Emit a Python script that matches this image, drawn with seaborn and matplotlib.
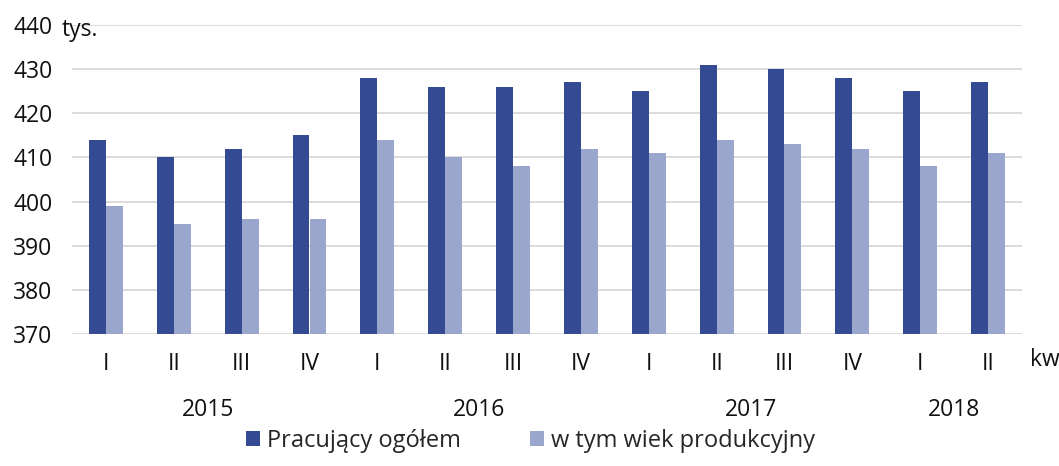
import matplotlib
matplotlib.use("Agg")
import matplotlib.pyplot as plt
import seaborn as sns
import pandas as pd
from matplotlib.patches import Patch

quarters = ["I", "II", "III", "IV", "I", "II", "III", "IV", "I", "II", "III", "IV", "I", "II"]
years = ["2015", "2016", "2017", "2018"]
year_groups = [(0, 3), (4, 7), (8, 11), (12, 13)]
total = [414, 410, 412, 415, 428, 426, 426, 427, 425, 431, 430, 428, 425, 427]
working_age = [399, 395, 396, 396, 414, 410, 408, 412, 411, 414, 413, 412, 408, 411]
series_names = ["Pracujący ogółem", "w tym wiek produkcyjny"]
colors = ["#344a93", "#9aa6cb"]

sns.set_theme(style="white")
plt.rcParams["font.family"] = ["Open Sans", "DejaVu Sans"]

idx = list(range(len(quarters)))
df = pd.DataFrame({
    "pos": idx * 2,
    "value": total + working_age,
    "series": [series_names[0]] * len(idx) + [series_names[1]] * len(idx),
})

FS = 16.5
fig = plt.figure(figsize=(10.59, 4.66), dpi=100)
ax = fig.add_axes([72 / 1059, 1 - 334 / 466, 950 / 1059, 309 / 466])
sns.barplot(data=df, x="pos", y="value", hue="series", palette=colors,
            width=0.5, gap=0, ax=ax, legend=False, saturation=1, order=idx,
            linewidth=0)

ax.set_ylim(370, 440)
ax.set_yticks(range(370, 441, 10))
ax.yaxis.grid(True, color="#d9d9d9", linewidth=1.3)
ax.set_axisbelow(True)
for s in ["top", "right", "left", "bottom"]:
    ax.spines[s].set_visible(False)
ax.set_xlabel("")
ax.set_ylabel("")
ax.set_xticks(idx)
ax.set_xticklabels(quarters)
ax.tick_params(axis="both", length=0, labelsize=FS, labelcolor="#111111")
ax.tick_params(axis="x", pad=13)
ax.tick_params(axis="y", pad=14)
ax.set_xlim(-0.5, len(quarters) - 0.5)

for yr, (a, b) in zip(years, year_groups):
    ax.text((a + b) / 2, -0.246, yr, transform=ax.get_xaxis_transform(),
            ha="center", va="center", fontsize=FS, color="#111111")

fig.text(62 / 1059, 1 - 30 / 466, "tys.", ha="left", va="center", fontsize=FS, color="#111111")
fig.text(1030 / 1059, 1 - 360 / 466, "kw", ha="left", va="center", fontsize=FS, color="#111111")

handles = [Patch(facecolor=c, edgecolor="none") for c in colors]
fig.legend(handles, series_names, loc="lower center", bbox_to_anchor=(0.501, 0.002),
           ncol=2, frameon=False, fontsize=FS + 0.5, handlelength=0.6, handleheight=0.6,
           handletextpad=0.3, columnspacing=2.9, borderpad=0)

fig.savefig("out.png", dpi=100)
